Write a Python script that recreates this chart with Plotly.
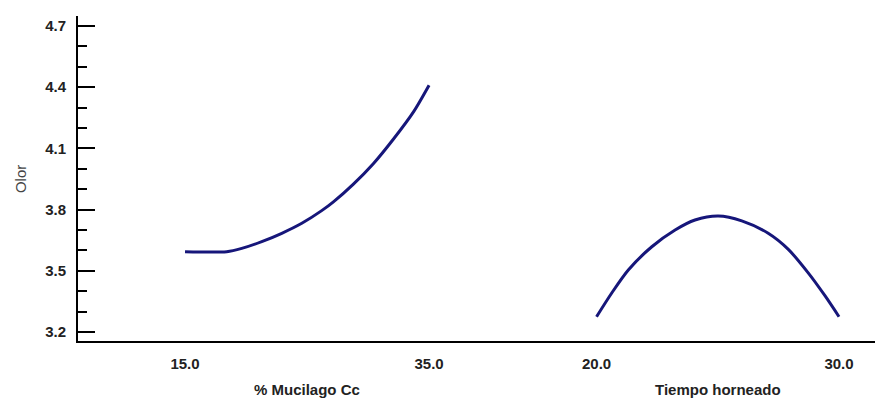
import plotly.graph_objects as go

# Factor 1: % Mucilago Cc
mucilago_x = [15.0, 18.42, 19.65, 21.29, 22.93, 24.57, 26.20, 27.16, 28.80, 30.43, 32.07, 33.71, 35.0]
mucilago_y = [3.594, 3.594, 3.610, 3.643, 3.684, 3.733, 3.795, 3.838, 3.925, 4.025, 4.145, 4.278, 4.41]

# Factor 2: Tiempo horneado
tiempo_x = [20.0, 20.62, 21.31, 22.28, 23.24, 24.06, 25.02, 25.99, 27.08, 27.91, 28.73, 29.42, 30.0]
tiempo_y = [3.275, 3.390, 3.504, 3.618, 3.700, 3.749, 3.769, 3.745, 3.684, 3.605, 3.490, 3.378, 3.275]

mucilago_ticks = [15.0, 35.0]
tiempo_ticks = [20.0, 30.0]
y_ticks = [3.2, 3.5, 3.8, 4.1, 4.4, 4.7]

response_name = "Olor"
factor_names = ["% Mucilago Cc", "Tiempo horneado"]

LINE = "#16167a"
FONT = "Liberation Sans, Arial, sans-serif"
TXT = "#222222"

fig = go.Figure()
fig.add_trace(go.Scatter(x=mucilago_x, y=mucilago_y, mode="lines",
                         line=dict(color=LINE, width=3, shape="spline", smoothing=0.8),
                         xaxis="x", yaxis="y", showlegend=False))
fig.add_trace(go.Scatter(x=tiempo_x, y=tiempo_y, mode="lines",
                         line=dict(color=LINE, width=3, shape="spline", smoothing=0.8),
                         xaxis="x2", yaxis="y", showlegend=False))

split = 0.5446
xcommon = dict(showgrid=False, zeroline=False, showline=True, linecolor="black",
               linewidth=2, ticks="", ticklabelstandoff=8,
               tickfont=dict(family=FONT, size=15, color=TXT, weight="bold"))

fig.update_layout(
    width=875, height=407,
    margin=dict(l=78, r=0, t=16, b=66),
    paper_bgcolor="white", plot_bgcolor="white",
    xaxis=dict(domain=[0, split], range=[6.23, 41.80], anchor="y",
               tickvals=mucilago_ticks, ticktext=[f"{v:.1f}" for v in mucilago_ticks],
               **xcommon),
    xaxis2=dict(domain=[split, 1], range=[16.515, 31.485], anchor="y",
                tickvals=tiempo_ticks, ticktext=[f"{v:.1f}" for v in tiempo_ticks],
                **xcommon),
    yaxis=dict(range=[3.156, 4.749], showgrid=False, zeroline=False,
               showline=True, linecolor="black", linewidth=2,
               tickvals=y_ticks, ticktext=[f"{v:.1f}" for v in y_ticks],
               ticks="inside", ticklen=17, tickwidth=2, tickcolor="black",
               ticklabelstandoff=7,
               minor=dict(dtick=0.1, tick0=3.2, ticks="inside", ticklen=9,
                          tickwidth=2, tickcolor="black", showgrid=False),
               tickfont=dict(family=FONT, size=15, color=TXT, weight="bold")),
)

# axis titles
fig.add_annotation(text=factor_names[0], x=25, xref="x", y=-0.148, yref="paper",
                   showarrow=False, yanchor="middle",
                   font=dict(family=FONT, size=15, color=TXT, weight="bold"))
fig.add_annotation(text=factor_names[1], x=25, xref="x2", y=-0.148, yref="paper",
                   showarrow=False, yanchor="middle",
                   font=dict(family=FONT, size=15, color=TXT, weight="bold"))
fig.add_annotation(text=response_name, x=-0.072, xref="paper", y=0.497, yref="paper",
                   showarrow=False, textangle=-90, xanchor="center", yanchor="middle",
                   font=dict(family=FONT, size=15, color="#444444"))

fig.write_html("out.html")
